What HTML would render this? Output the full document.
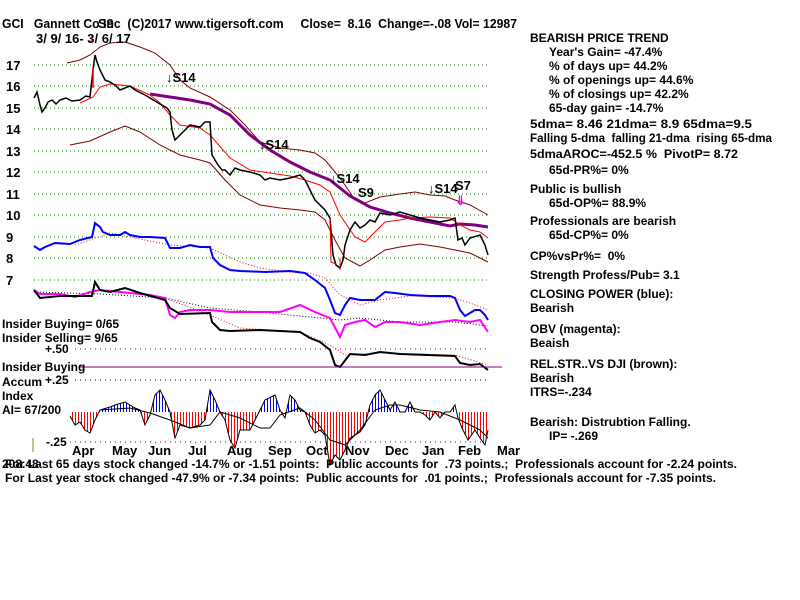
<!DOCTYPE html>
<html><head><meta charset="utf-8"><style>
html,body{margin:0;padding:0;background:#fff;}
svg{display:block;}
text{font-family:"Liberation Sans",Arial,sans-serif;font-weight:bold;fill:#000;white-space:pre;}
</style></head><body>
<svg width="800" height="600" viewBox="0 0 800 600" xmlns="http://www.w3.org/2000/svg" xml:space="preserve">
<defs>
<pattern id="rs" width="3" height="10" patternUnits="userSpaceOnUse"><rect width="1" height="10" fill="#f00"/></pattern>
<pattern id="bs" width="3" height="10" patternUnits="userSpaceOnUse"><rect width="1" height="10" fill="#00f"/></pattern>
<clipPath id="aic"><polygon points="70,412 70,416 75,425 80,422 85,430 90,433 95,420 100,410 110,407 115,405 125,402 135,408 140,410 145,425 150,415 155,395 160,390 165,400 170,412 175,438 180,425 190,428 200,425 205,420 210,390 215,400 220,412 225,420 230,440 235,448 240,430 250,430 255,420 265,400 275,395 280,410 285,418 290,395 295,400 300,410 305,412 310,425 315,433 320,430 325,435 330,465 335,455 340,460 345,450 350,438 360,432 365,425 370,405 375,395 380,390 385,400 390,410 395,402 400,412 405,412 410,402 415,412 420,412 425,415 430,420 435,412 440,418 445,412 450,412 455,405 458,418 462,428 468,440 475,430 480,438 485,445 488,430 488,412"/></clipPath>
</defs>
<g stroke="#080" stroke-width="1" stroke-dasharray="1,3">
<line x1="34" y1="65" x2="490" y2="65"/><line x1="34" y1="86" x2="490" y2="86"/><line x1="34" y1="108" x2="490" y2="108"/><line x1="34" y1="129" x2="490" y2="129"/><line x1="34" y1="151" x2="490" y2="151"/><line x1="34" y1="172" x2="490" y2="172"/><line x1="34" y1="194" x2="490" y2="194"/><line x1="34" y1="215" x2="490" y2="215"/><line x1="34" y1="237" x2="490" y2="237"/><line x1="34" y1="258" x2="490" y2="258"/><line x1="34" y1="280" x2="490" y2="280"/>
</g>
<g font-size="13"><text x="6" y="70">17</text><text x="6" y="91">16</text><text x="6" y="113">15</text><text x="6" y="134">14</text><text x="6" y="156">13</text><text x="6" y="177">12</text><text x="6" y="199">11</text><text x="6" y="220">10</text><text x="6" y="242">9</text><text x="6" y="263">8</text><text x="6" y="285">7</text></g>
<g fill="none">
<polyline stroke="#800000" points="67,63 80,60 90,55 100,47 110,43 125,42 140,47 155,53 170,65 180,80 190,88 210,97 230,110 245,125 260,142 280,148 300,150 315,153 325,160 335,172 345,185 355,200 365,203 380,197 400,194 415,192 430,195 445,196 455,200 470,205 488,215"/>
<polyline stroke="#800000" points="70,145 90,141 110,132 125,126 140,132 160,145 180,155 200,160 210,163 225,180 240,195 260,205 280,208 300,210 315,212 325,220 335,240 345,258 360,266 370,260 385,250 400,247 420,244 440,247 455,250 470,253 488,262"/>
<polyline stroke="#800080" stroke-width="3" points="150,94 170,97 190,100 210,104 230,115 250,135 270,150 290,162 310,172 330,180 350,196 370,207 390,213 410,218 430,222 450,226 460,224 475,225 488,227"/>
<polyline stroke="#f00" points="80,103 93,97 100,87 110,84 130,86 150,95 160,103 170,115 180,125 200,128 210,135 230,158 250,170 270,173 290,176 305,180 320,185 330,192 340,215 355,237 365,242 375,232 385,222 400,220 410,218 430,217 450,218 460,225 470,230 480,232 488,238"/>
<polyline stroke="#000" stroke-width="1.5" points="34,98 37,92 40,105 42,112 45,108 48,102 52,100 56,104 60,100 66,98 72,101 80,100 86,96 90,97 93,70 95,55 97,62 100,70 105,80 110,82 115,85 120,90 125,88 130,86 135,90 145,95 150,98 160,104 167,108 170,112 172,130 175,140 180,135 185,130 190,125 200,127 205,122 210,122 212,155 218,165 222,170 225,170 230,175 235,168 240,170 250,172 260,175 265,180 270,178 280,180 290,178 300,175 305,180 310,190 315,200 320,205 325,210 330,218 333,255 336,265 340,268 343,260 345,245 350,230 355,222 360,228 365,225 370,220 375,222 380,213 390,215 400,212 410,215 420,218 430,220 440,222 450,220 455,218 458,240 462,238 465,245 470,238 480,235 485,245 488,255"/>
<polyline stroke="#f00" stroke-width="1.5" points="93,88 93,68"/><polyline stroke="#f00" points="330,218 331,262 336,264"/><polyline stroke="#f00" points="340,258 340,270"/>
<polyline stroke="#f00" stroke-dasharray="1,2" points="75,245 90,240 110,233 130,237 170,245 210,248 240,262 260,268 290,272 310,273 325,278 340,295 360,305 380,300 410,296 455,298 470,303 488,310"/>
<polyline stroke="#00f" stroke-width="2" points="34,246 40,250 45,247 55,243 70,244 80,240 92,237 95,223 100,227 103,232 110,235 120,235 125,232 130,235 140,237 150,237 165,238 170,248 180,248 190,245 200,247 210,247 213,258 220,265 230,270 240,271 265,272 290,271 305,273 315,280 325,288 330,300 335,313 340,315 345,305 350,298 360,300 375,300 385,292 395,293 410,295 430,296 450,296 455,298 460,310 465,316 475,310 480,310 485,315 488,320"/>
<polyline stroke="#000" stroke-dasharray="1,2" points="34,292 100,294 165,298 210,308 260,312 320,318 340,320 360,318 400,322 455,322 488,326"/>
<polyline stroke="#f00" stroke-dasharray="1,2" points="165,298 210,315 240,328 300,332 330,345 345,355 380,353 455,355 488,365"/>
<polyline stroke="#f0f" stroke-width="2" points="34,290 40,294 60,294 75,297 90,292 100,290 120,292 150,295 165,298 170,315 175,318 180,312 190,310 210,310 230,312 250,312 280,312 300,305 315,312 330,318 340,337 345,325 355,322 365,320 375,327 385,322 400,322 420,325 440,322 455,320 470,322 480,320 488,332"/>
<polyline stroke="#000" stroke-width="2" points="34,290 40,298 60,296 75,296 92,296 95,282 100,290 110,292 125,288 140,293 165,300 170,308 180,314 210,313 212,322 220,330 230,331 260,330 300,332 310,338 320,342 330,350 335,365 340,367 350,354 365,355 380,352 400,354 455,356 460,363 470,365 480,364 488,370"/>
</g>
<line x1="75" y1="349" x2="490" y2="349" stroke="#800080" stroke-dasharray="1,4"/>
<line x1="80" y1="367" x2="502" y2="367" stroke="#800080"/>
<line x1="75" y1="380" x2="490" y2="380" stroke="#000" stroke-dasharray="1,4"/>
<line x1="70" y1="442" x2="490" y2="442" stroke="#800080" stroke-dasharray="1,4"/>
<g clip-path="url(#aic)"><rect x="70" y="380" width="420" height="32" fill="url(#bs)"/><rect x="70" y="412" width="420" height="60" fill="url(#rs)"/></g>
<polyline fill="none" stroke="#000" points="70,416 75,425 80,422 85,430 90,433 95,420 100,410 110,407 115,405 125,402 135,408 140,410 145,425 150,415 155,395 160,390 165,400 170,412 175,438 180,425 190,428 200,425 205,420 210,390 215,400 220,412 225,420 230,440 235,448 240,430 250,430 255,420 265,400 275,395 280,410 285,418 290,395 295,400 300,410 305,412 310,425 315,433 320,430 325,435 330,465 335,455 340,460 345,450 350,438 360,432 365,425 370,405 375,395 380,390 385,400 390,410 395,402 400,412 405,412 410,402 415,412 420,412 425,415 430,420 435,412 440,418 445,412 450,412 455,405 458,418 462,428 468,440 475,430 480,438 485,445 488,430"/>
<polyline fill="none" stroke="#000" points="100,410 130,408 150,413 170,420 190,428 210,425 220,412 240,418 260,428 270,428 280,415 300,408 315,420 330,440 345,445 360,430 375,410 390,405 400,405 420,410 440,412 460,420 480,430 488,438"/>
<line x1="33" y1="438" x2="33" y2="452" stroke="#880"/>
<g font-size="12">
<text x="2" y="328">Insider Buying= 0/65</text><text x="2" y="342">Insider Selling= 9/65</text>
<text x="45" y="353">+.50</text><text x="2" y="371">Insider Buying</text>
<text x="2" y="386">Accum</text><text x="45" y="384">+.25</text>
<text x="2" y="400">Index</text><text x="2" y="414">AI= 67/200</text><text x="46" y="446">-.25</text>
</g>
<g font-size="13"><text x="72" y="455">Apr</text><text x="112" y="455">May</text><text x="148" y="455">Jun</text><text x="188" y="455">Jul</text><text x="227" y="455">Aug</text><text x="268" y="455">Sep</text><text x="306" y="455">Oct</text><text x="345" y="455">Nov</text><text x="385" y="455">Dec</text><text x="422" y="455">Jan</text><text x="458" y="455">Feb</text><text x="497" y="455">Mar</text></g>
<g font-size="12">
<text x="2" y="468">208.48</text>
<text x="5" y="468" textLength="732" lengthAdjust="spacingAndGlyphs">For Last 65 days stock changed -14.7% or -1.51 points:  Public accounts for  .73 points.;  Professionals account for -2.24 points.</text>
<text x="5" y="482" textLength="711" lengthAdjust="spacingAndGlyphs">For Last year stock changed -47.9% or -7.34 points:  Public accounts for  .01 points.;  Professionals account for -7.35 points.</text>
</g>
<g font-size="13">
<text x="2" y="28" textLength="515" lengthAdjust="spacingAndGlyphs">GCI   Gannett Co Inc  (C)2017 www.tigersoft.com     Close=  8.16  Change=-.08 Vol= 12987</text>
<text x="36" y="43">3/ 9/ 16- 3/ 6/ 17</text>
<text x="98" y="28">S9</text>
<text x="166" y="82">↓S14</text><text x="259" y="149">↓S14</text><text x="330" y="183">↓S14</text><text x="358" y="197">S9</text><text x="428" y="193">↓S14</text><text x="455" y="190">S7</text>
</g>
<text x="88" y="42" font-size="14" style="fill:#f00">↓</text>
<text x="455" y="205" font-size="13" style="fill:#f0f">⇓</text>
<g font-size="12">
<text x="530" y="42">BEARISH PRICE TREND</text>
<text x="549" y="56">Year's Gain= -47.4%</text>
<text x="549" y="70">% of days up= 44.2%</text>
<text x="549" y="84">% of openings up= 44.6%</text>
<text x="549" y="98">% of closings up= 42.2%</text>
<text x="549" y="112">65-day gain= -14.7%</text>
<text x="530" y="128" textLength="222" lengthAdjust="spacingAndGlyphs">5dma= 8.46 21dma= 8.9 65dma=9.5</text>
<text x="530" y="142" textLength="242" lengthAdjust="spacingAndGlyphs">Falling 5-dma  falling 21-dma  rising 65-dma</text>
<text x="530" y="158" textLength="208" lengthAdjust="spacingAndGlyphs">5dmaAROC=-452.5 %  PivotP= 8.72</text>
<text x="549" y="174">65d-PR%= 0%</text>
<text x="530" y="193">Public is bullish</text>
<text x="549" y="207">65d-OP%= 88.9%</text>
<text x="530" y="225">Professionals are bearish</text>
<text x="549" y="239">65d-CP%= 0%</text>
<text x="530" y="260">CP%vsPr%=  0%</text>
<text x="530" y="279">Strength Profess/Pub= 3.1</text>
<text x="530" y="298">CLOSING POWER (blue):</text>
<text x="530" y="312">Bearish</text>
<text x="530" y="333">OBV (magenta):</text>
<text x="530" y="347">Beaish</text>
<text x="530" y="368">REL.STR..VS DJI (brown):</text>
<text x="530" y="382">Bearish</text>
<text x="530" y="396">ITRS=-.234</text>
<text x="530" y="426">Bearish: Distrubtion Falling.</text>
<text x="549" y="440">IP= -.269</text>
</g>
</svg>
</body></html>
